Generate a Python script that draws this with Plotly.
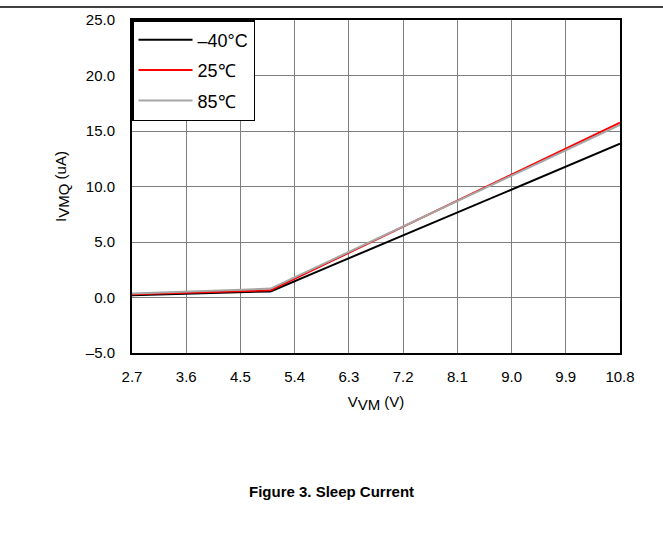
import plotly.graph_objects as go

# Data
vm = [2.7, 5.0, 6.0, 7.0, 8.0, 9.0, 10.0, 10.8]
i_m40 = [0.2, 0.55, 2.85, 5.15, 7.45, 9.75, 12.05, 13.85]
i_25 = [0.3, 0.65, 3.25, 5.85, 8.45, 11.05, 13.65, 15.75]
i_85 = [0.35, 0.8, 3.35, 5.9, 8.45, 11.0, 13.55, 15.55]
series_names = ["–40°C", "25℃", "85℃"]
series_colors = ["#000000", "#ff0000", "#a6a6a6"]
x_ticks = [2.7, 3.6, 4.5, 5.4, 6.3, 7.2, 8.1, 9.0, 9.9, 10.8]
y_ticks = [-5.0, 0.0, 5.0, 10.0, 15.0, 20.0, 25.0]

FONT = "Liberation Sans, Arial, sans-serif"
FS = 15

fig = go.Figure()
for i, (name, ys, col) in enumerate(zip(series_names, [i_m40, i_25, i_85], series_colors)):
    fig.add_trace(go.Scatter(x=vm, y=ys, mode="lines", name=name,
                             line=dict(color=col, width=2), legendgroup=str(i)))

fig.update_layout(
    width=663, height=554,
    margin=dict(l=132, r=43, t=20, b=201),
    paper_bgcolor="white", plot_bgcolor="white",
    font=dict(family=FONT, size=FS, color="black"),
    showlegend=True,
    legend=dict(x=0.0, y=1.0, xanchor="left", yanchor="top",
                bordercolor="black", borderwidth=1.5, bgcolor="white",
                font=dict(family=FONT, size=18), traceorder="grouped",
                tracegroupgap=4, itemwidth=54),
    xaxis=dict(range=[2.7, 10.8], tickvals=x_ticks, ticktext=[f"{v:.1f}" for v in x_ticks],
               showgrid=True, gridcolor="#7f7f7f", gridwidth=1,
               showline=True, linecolor="black", linewidth=2, mirror=True,
               ticks="", ticklabelstandoff=9, zeroline=False,
               title=dict(text="V<sub><span style='font-size:15px'>VM</span></sub> (V)",
                          standoff=12, font=dict(size=FS))),
    yaxis=dict(range=[-5, 25], tickvals=y_ticks,
               ticktext=[(f"{v:.1f}" if v >= 0 else f"–{abs(v):.1f}") for v in y_ticks],
               showgrid=True, gridcolor="#7f7f7f", gridwidth=1,
               showline=True, linecolor="black", linewidth=2, mirror=True,
               ticks="", ticklabelstandoff=12, zeroline=False,
               title=dict(text="I<sub><span style='font-size:15px'>VMQ</span></sub> (uA)",
                          standoff=16, font=dict(size=FS))),
)

# Top rule across page
fig.add_shape(type="line", xref="paper", yref="paper",
              x0=-0.3, x1=1.1, y0=(353 - 7) / 333, y1=(353 - 7) / 333,
              line=dict(color="black", width=1.5))

fig.add_annotation(text="<b>Figure 3. Sleep Current</b>", xref="paper", yref="paper",
                   x=(331 - 132) / 488, y=(353 - 491) / 333, showarrow=False,
                   xanchor="center", yanchor="middle",
                   font=dict(family=FONT, size=FS, color="black"))

fig.write_html("out.html", config={"displayModeBar": False},
               post_script="document.body.style.margin='0';")
